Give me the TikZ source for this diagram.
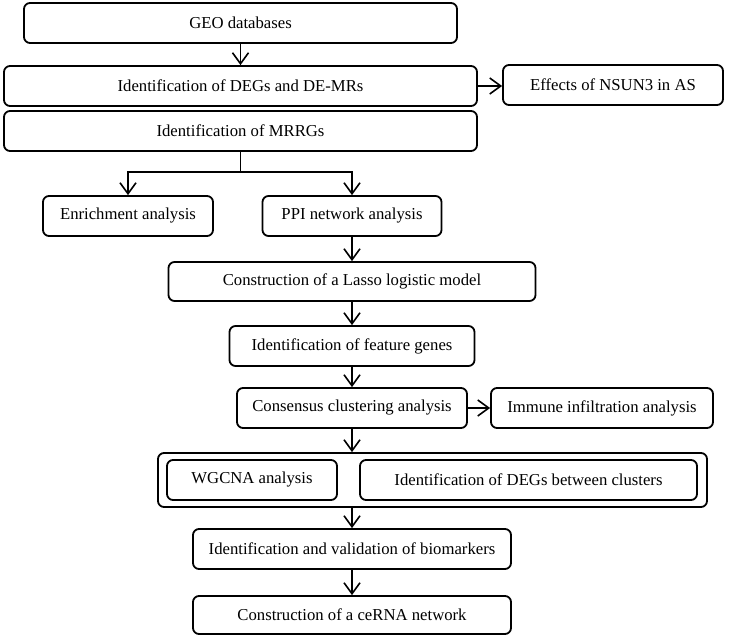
\documentclass[tikz,border=0pt]{standalone}
\usepackage{fontspec}
\setmainfont{Liberation Serif}
\usetikzlibrary{arrows.meta}
\begin{document}
\begin{tikzpicture}[x=1pt,y=-1pt,
  box/.style={draw, line width=1.8pt, rounded corners=6pt, inner sep=0pt, align=center, font=\fontsize{16.7}{19}\selectfont},
  arr/.style={line width=1.6pt, -{Straight Barb[length=11pt,width=16pt,line width=1.6pt]}},
  ln/.style={line width=1.6pt}]
\useasboundingbox (0,0) rectangle (729,639);
\node[box, minimum width=433pt, minimum height=40pt] (geo) at (240.5,23) {GEO databases};
\node[box, minimum width=473pt, minimum height=40pt] (degs) at (240.5,86) {Identification of DEGs and DE-MRs};
\node[box, minimum width=220pt, minimum height=40pt] (nsun) at (613,85) {Effects of NSUN3 in AS};
\node[box, minimum width=473pt, minimum height=40pt] (mrrg) at (240.5,131) {Identification of MRRGs};
\coordinate (split) at (240.5,172);
\node[box, minimum width=170pt, minimum height=40pt] (enr) at (128,216) {Enrichment analysis};
\node[box, minimum width=179pt, minimum height=40pt] (ppi) at (352,216) {PPI network analysis};
\node[box, minimum width=367pt, minimum height=39pt] (lasso) at (352,281.5) {Construction of a Lasso logistic model};
\node[box, minimum width=245pt, minimum height=40pt] (feat) at (352,346) {Identification of feature genes};
\node[box, minimum width=230pt, minimum height=40pt] (cons) at (352,408) {Consensus clustering analysis};
\node[box, minimum width=222pt, minimum height=40pt] (imm) at (602,408) {Immune infiltration analysis};
\node[box, minimum width=549pt, minimum height=54pt] (outer) at (432.5,480) {};
\node[box, minimum width=170pt, minimum height=40pt] (wgcna) at (252,480) {WGCNA analysis};
\node[box, minimum width=337pt, minimum height=40pt] (dbc) at (528.5,480) {Identification of DEGs between clusters};
\node[box, minimum width=318pt, minimum height=40pt] (bio) at (352,549) {Identification and validation of biomarkers};
\node[box, minimum width=318pt, minimum height=38pt] (cerna) at (352,615) {Construction of a ceRNA network};

\draw[arr] (geo.south) -- (degs.north);
\draw[arr] (degs.east) -- (degs.east -| nsun.west);
\draw[ln] (mrrg.south) -- (split);
\draw[arr] (split) -| (enr.north);
\draw[arr] (split) -| (ppi.north);
\draw[arr] (ppi.south) -- (lasso.north);
\draw[arr] (lasso.south) -- (feat.north);
\draw[arr] (feat.south) -- (cons.north);
\draw[arr] (cons.east) -- (imm.west);
\draw[arr] (cons.south) -- (cons.south |- outer.north);
\draw[arr] (outer.south -| bio.north) -- (bio.north);
\draw[arr] (bio.south) -- (cerna.north);
\end{tikzpicture}
\end{document}
